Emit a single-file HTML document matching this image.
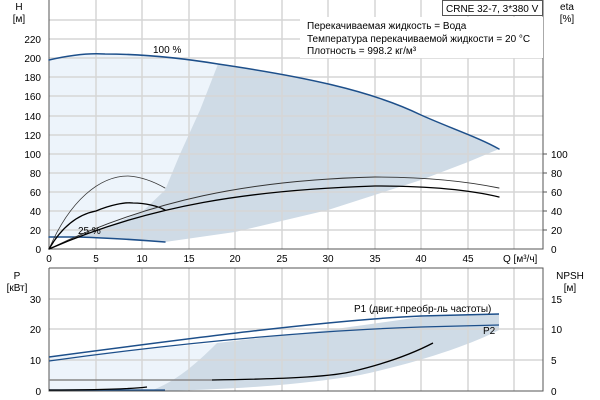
<!DOCTYPE html>
<html><head><meta charset="utf-8"><style>
body{margin:0;background:#fff;}
svg{display:block;font-family:"Liberation Sans",sans-serif;font-size:10px;fill:#000;}
</style></head><body>
<svg width="600" height="400" viewBox="0 0 600 400">
<!-- top shading -->
<path d="M49,60 C70,55 90,53 105,54 C135,54 175,57 218,64 L200,110 L180,154 L165,190 L143,211 L100,230 L77,237 L49,237 Z" fill="#edf4fb"/>
<path d="M77,237 L100,230 L143,211 L165,190 L180,154 L200,110 L218,64 C300,76 370,90 421,115 C450,128 480,138 499,149 L468,162 L421,180 L328,210 L235,232 L165,242 L120,239 Z" fill="#cfdbe6"/>
<!-- bottom shading -->
<path d="M49,357 L217,343 C195,365 175,382 150,391 L49,391 Z" fill="#edf4fb"/>
<path d="M217,343 L328,330 L421,317 L499,314 L499,330 C470,345 420,362 360,375 C300,385 230,390 150,391 C175,382 195,365 217,343 Z" fill="#cfdbe6"/>
<g stroke="#d6d6d6" stroke-width="1.5">
<line x1="96" y1="0" x2="96" y2="249"/><line x1="142" y1="0" x2="142" y2="249"/><line x1="189" y1="0" x2="189" y2="249"/><line x1="235" y1="0" x2="235" y2="249"/><line x1="282" y1="0" x2="282" y2="249"/><line x1="328" y1="0" x2="328" y2="249"/><line x1="375" y1="0" x2="375" y2="249"/><line x1="421" y1="0" x2="421" y2="249"/><line x1="468" y1="0" x2="468" y2="249"/><line x1="514" y1="0" x2="514" y2="249"/>
<line x1="49" y1="230" x2="543" y2="230"/><line x1="49" y1="211" x2="543" y2="211"/><line x1="49" y1="192" x2="543" y2="192"/><line x1="49" y1="173" x2="543" y2="173"/><line x1="49" y1="154" x2="543" y2="154"/><line x1="49" y1="135" x2="543" y2="135"/><line x1="49" y1="116" x2="543" y2="116"/><line x1="49" y1="96" x2="543" y2="96"/><line x1="49" y1="77" x2="543" y2="77"/><line x1="49" y1="58" x2="543" y2="58"/><line x1="49" y1="39" x2="543" y2="39"/><line x1="49" y1="20" x2="543" y2="20"/>
<line x1="96" y1="268" x2="96" y2="391"/><line x1="142" y1="268" x2="142" y2="391"/><line x1="189" y1="268" x2="189" y2="391"/><line x1="235" y1="268" x2="235" y2="391"/><line x1="282" y1="268" x2="282" y2="391"/><line x1="328" y1="268" x2="328" y2="391"/><line x1="375" y1="268" x2="375" y2="391"/><line x1="421" y1="268" x2="421" y2="391"/><line x1="468" y1="268" x2="468" y2="391"/><line x1="514" y1="268" x2="514" y2="391"/>
<line x1="49" y1="360" x2="543" y2="360"/><line x1="49" y1="329" x2="543" y2="329"/><line x1="49" y1="299" x2="543" y2="299"/>
</g>
<!-- axes -->
<g stroke="#555" stroke-width="1" fill="none">
<path d="M49,0 V249 H543 V0"/>
<path d="M49,268 V391 H543 V268 H49"/>
</g>
<!-- top curves -->
<g fill="none" stroke-linecap="round">
<path d="M49,60 C70,55 90,53 105,54 C135,54 175,57 218,64 C300,76 370,90 421,115 C450,128 480,138 499,149" stroke="#1d4f8a" stroke-width="1.5"/>
<path d="M49,237 L77,237 C110,238 140,240 165,242" stroke="#1d4f8a" stroke-width="1.5"/>
<path d="M49,249 C70,200 100,176 128,176 C145,177 158,184 165,188" stroke="#333" stroke-width="0.8"/>
<path d="M49,249 C60,230 75,215 96,211 C110,205 125,202 133,203 C145,203 158,206 165,210" stroke="#000" stroke-width="1.3"/>
<path d="M49,249 C150,200 250,180 375,177 C430,177 470,182 499,188" stroke="#333" stroke-width="0.9"/>
<path d="M49,249 C150,205 250,190 375,186 C430,186 470,190 499,197" stroke="#000" stroke-width="1.3"/>
</g>
<!-- bottom curves -->
<g fill="none">
<path d="M49,357 C200,337 330,320 421,316 L499,314" stroke="#1d4f8a" stroke-width="1.5"/>
<path d="M49,361 C200,340 330,330 421,327 L499,325" stroke="#1d4f8a" stroke-width="1.2"/>
<line x1="49" y1="380" x2="212" y2="380" stroke="#888" stroke-width="1.5"/>
<path d="M212,380 C280,379 328,377 350,372 C380,365 410,355 433,343" stroke="#000" stroke-width="1.3"/>
<line x1="49" y1="390" x2="165" y2="390" stroke="#1d4f8a" stroke-width="1.2"/>
<path d="M49,390 C90,390 130,389 147,387" stroke="#000" stroke-width="1.3"/>
</g>
<!-- ticks labels -->
<g text-anchor="end">
<text x="41" y="253">0</text><text x="41" y="234">20</text><text x="41" y="215">40</text><text x="41" y="196">60</text><text x="41" y="177">80</text><text x="41" y="158">100</text><text x="41" y="139">120</text><text x="41" y="120">140</text><text x="41" y="100">160</text><text x="41" y="81">180</text><text x="41" y="62">200</text><text x="41" y="43">220</text>
<text x="41" y="395">0</text><text x="41" y="364">10</text><text x="41" y="333">20</text><text x="41" y="303">30</text>
</g>
<g text-anchor="middle">
<text x="49" y="262">0</text><text x="96" y="262">5</text><text x="142" y="262">10</text><text x="189" y="262">15</text><text x="235" y="262">20</text><text x="282" y="262">25</text><text x="328" y="262">30</text><text x="375" y="262">35</text><text x="421" y="262">40</text><text x="468" y="262">45</text>
<text x="19" y="10">H</text><text x="19" y="22">[м]</text>
<text x="567" y="10">eta</text><text x="567" y="22">[%]</text>
<text x="17" y="279">P</text><text x="17" y="291">[кВт]</text>
<text x="570" y="279">NPSH</text><text x="570" y="291">[м]</text>
</g>
<text x="503" y="262">Q [м³/ч]</text>
<g>
<text x="551" y="158">100</text><text x="551" y="177">80</text><text x="551" y="196">60</text><text x="551" y="215">40</text><text x="551" y="234">20</text><text x="551" y="253">0</text>
<text x="551" y="395">0</text><text x="551" y="364">5</text><text x="551" y="333">10</text><text x="551" y="303">15</text>
</g>
<g stroke="#555">
<line x1="543" y1="154" x2="547" y2="154"/><line x1="543" y1="173" x2="547" y2="173"/><line x1="543" y1="192" x2="547" y2="192"/><line x1="543" y1="211" x2="547" y2="211"/><line x1="543" y1="230" x2="547" y2="230"/>
</g>
<text x="153" y="53">100 %</text>
<text x="78" y="234">25 %</text>
<text x="354" y="312">P1 (двиг.+преобр-ль частоты)</text>
<text x="483" y="334">P2</text>
<!-- info -->
<rect x="300" y="17" width="243" height="41" fill="#fff"/>
<text x="307" y="29">Перекачиваемая жидкость = Вода</text>
<text x="307" y="42">Температура перекачиваемой жидкости = 20 °C</text>
<text x="307" y="54">Плотность = 998.2 кг/м³</text>
<rect x="442.5" y="0.5" width="100" height="15" fill="#fff" stroke="#555"/>
<text x="446" y="12">CRNE 32-7, 3*380 V</text>
</svg>
</body></html>
